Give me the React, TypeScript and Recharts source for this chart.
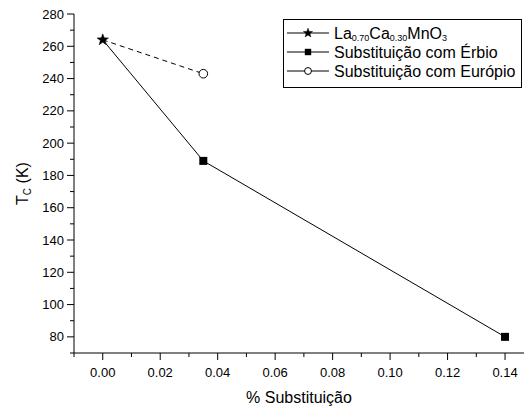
import { LineChart, Line, XAxis, YAxis, Label } from 'recharts';

// values
const substitution = [0, 0.035, 0.14];
const tcLa = [264];
const tcErbio = [264, 189, 80];
const tcEuropio = [264, 243];

const xTicks = [-0.01, 0, 0.01, 0.02, 0.03, 0.04, 0.05, 0.06, 0.07, 0.08, 0.09, 0.1, 0.11, 0.12, 0.13, 0.14];
const yTicks = [70, 80, 90, 100, 110, 120, 130, 140, 150, 160, 170, 180, 190, 200, 210, 220, 230, 240, 250, 260, 270, 280];

const laData = tcLa.map((y, i) => ({ x: substitution[i], y }));
const erbioData = tcErbio.map((y, i) => ({ x: substitution[i], y }));
const europioData = tcEuropio.map((y, i) => ({ x: substitution[i], y }));

const FONT = '"Liberation Sans", Arial, sans-serif';

function starPath(cx: number, cy: number, ro: number, ri: number) {
  let d = '';
  for (let i = 0; i < 10; i++) {
    const r = i % 2 === 0 ? ro : ri;
    const a = -Math.PI / 2 + (i * Math.PI) / 5;
    d += (i === 0 ? 'M' : 'L') + (cx + r * Math.cos(a)).toFixed(2) + ',' + (cy + r * Math.sin(a)).toFixed(2);
  }
  return d + 'Z';
}

const Star = ({ cx, cy, s = 1 }: any) => (
  <path d={starPath(cx, cy, 6 * s, 2.5 * s)} fill="#000" stroke="#000" strokeWidth={0.5} />
);
const Square = ({ cx, cy, s = 1 }: any) => <rect x={cx - 4 * s} y={cy - 4 * s} width={8 * s} height={8 * s} fill="#000" />;
const Circle = ({ cx, cy, s = 1 }: any) => <circle cx={cx} cy={cy} r={4.3 * s} fill="#fff" stroke="#000" strokeWidth={1} />;

const XTick = ({ x, y, payload }: any) => {
  const major = Math.round(payload.value * 100) % 2 === 0;
  return (
    <g>
      <line x1={x} y1={y} x2={x} y2={y + (major ? 7 : 4)} stroke="#000" />
      {major && (
        <text x={x} y={y + 19} textAnchor="middle" dominantBaseline="central" fontSize={13} fontFamily={FONT} fill="#000">
          {payload.value.toFixed(2)}
        </text>
      )}
    </g>
  );
};

const YTick = ({ x, y, payload }: any) => {
  const major = payload.value % 20 === 0;
  return (
    <g>
      <line x1={x} y1={y} x2={x - (major ? 7 : 4)} y2={y} stroke="#000" />
      {major && (
        <text x={x - 10} y={y} textAnchor="end" dominantBaseline="central" fontSize={13} fontFamily={FONT} fill="#000">
          {payload.value}
        </text>
      )}
    </g>
  );
};

const YLabel = ({ viewBox }: any) => {
  const cy = viewBox.y + viewBox.height / 2;
  const cx = 22;
  return (
    <text x={cx} y={cy} transform={`rotate(-90 ${cx} ${cy})`} textAnchor="middle" dominantBaseline="central" fontSize={16} fontFamily={FONT} fill="#000">
      <tspan>T</tspan>
      <tspan dy={5} fontSize={10}>C</tspan>
      <tspan dy={-5}> (K)</tspan>
    </text>
  );
};

const XLabel = ({ viewBox }: any) => (
  <text x={viewBox.x + viewBox.width / 2} y={397} textAnchor="middle" dominantBaseline="central" fontSize={16} fontFamily={FONT} fill="#000">
    % Substituição
  </text>
);

const LegendBox = () => {
  const rows = [
    {
      marker: Star,
      label: (
        <>
          <tspan>La</tspan>
          <tspan dy={5} fontSize={9}>0.70</tspan>
          <tspan dy={-5}>Ca</tspan>
          <tspan dy={5} fontSize={9}>0.30</tspan>
          <tspan dy={-5}>MnO</tspan>
          <tspan dy={5} fontSize={9}>3</tspan>
        </>
      ),
    },
    { marker: Square, label: <tspan>Substituição com Érbio</tspan> },
    { marker: Circle, label: <tspan>Substituição com Európio</tspan> },
  ];
  return (
    <svg width={240} height={70} style={{ display: 'block' }}>
      <rect x={0.5} y={0.5} width={238} height={68} fill="#fff" stroke="#000" />
      {rows.map((r, i) => {
        const cy = 14 + i * 19;
        const M = r.marker;
        return (
          <g key={i}>
            <line x1={4} y1={cy} x2={46} y2={cy} stroke="#000" />
            <M cx={25} cy={cy} s={0.8} />
            <text x={51} y={cy} dominantBaseline="central" fontSize={16} fontFamily={FONT} fill="#000">
              {r.label}
            </text>
          </g>
        );
      })}
    </svg>
  );
};

const hideFirst = (Shape: any) => (props: any) =>
  props.index === 0 ? <g key={props.key} /> : <Shape key={props.key} {...props} />;

export default function App() {
  return (
    <div style={{ position: 'absolute', left: 0, top: 0, width: 524, height: 410, background: '#fff' }}>
      <style>{'body{margin:0}'}</style>
      <LineChart width={524} height={410} margin={{ top: 14, right: 0, bottom: 0, left: 0 }}>
        <XAxis
          type="number"
          dataKey="x"
          domain={[-0.01, 0.1466]}
          ticks={xTicks}
          interval={0}
          allowDataOverflow
          height={57}
          stroke="#000"
          tickLine={false}
          tickSize={0}
          tickMargin={0}
          tick={<XTick />}
        >
          <Label content={<XLabel />} />
        </XAxis>
        <YAxis
          type="number"
          dataKey="y"
          domain={[70, 280]}
          ticks={yTicks}
          interval={0}
          allowDataOverflow
          width={74}
          stroke="#000"
          tickLine={false}
          tickSize={0}
          tickMargin={0}
          tick={<YTick />}
        >
          <Label content={<YLabel />} />
        </YAxis>
        <Line
          data={erbioData}
          dataKey="y"
          type="linear"
          stroke="#000"
          strokeWidth={1}
          dot={hideFirst(Square)}
          activeDot={false}
          isAnimationActive={false}
        />
        <Line
          data={europioData}
          dataKey="y"
          type="linear"
          stroke="#000"
          strokeWidth={1}
          strokeDasharray="5 4"
          dot={hideFirst(Circle)}
          activeDot={false}
          isAnimationActive={false}
        />
        <Line
          data={laData}
          dataKey="y"
          type="linear"
          stroke="#000"
          dot={(p: any) => <Star key={p.key} {...p} />}
          activeDot={false}
          isAnimationActive={false}
        />
      </LineChart>
      <div style={{ position: 'absolute', left: 283, top: 19 }}>
        <LegendBox />
      </div>
    </div>
  );
}
